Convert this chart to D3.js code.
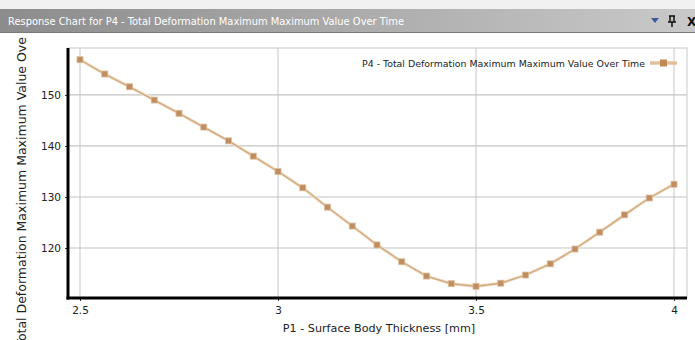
<!DOCTYPE html>
<html>
<head>
<meta charset="utf-8">
<script src="https://cdnjs.cloudflare.com/ajax/libs/d3/7.8.5/d3.min.js"></script>
<style>
  body { margin: 0; background: #fff; }
  svg { display: block; }
</style>
</head>
<body>
<div id="chart"></div>
<script>
// data
const thickness = [2.5, 2.5625, 2.625, 2.6875, 2.75, 2.8125, 2.875, 2.9375, 3.0,
  3.0625, 3.125, 3.1875, 3.25, 3.3125, 3.375, 3.4375, 3.5,
  3.5625, 3.625, 3.6875, 3.75, 3.8125, 3.875, 3.9375, 4.0];
const deformation = [156.9, 154.1, 151.6, 149.0, 146.4, 143.7, 141.0, 138.0, 135.0,
  131.8, 128.0, 124.3, 120.6, 117.3, 114.5, 113.0, 112.5,
  113.1, 114.7, 116.9, 119.8, 123.1, 126.5, 129.8, 132.5];
const xTicks = [2.5, 3, 3.5, 4];
const yTicks = [120, 130, 140, 150];

const titleText = "Response Chart for P4 - Total Deformation Maximum Maximum Value Over Time";
const seriesName = "P4 - Total Deformation Maximum Maximum Value Over Time";
const xLabel = "P1 - Surface Body Thickness  [mm]";
const yLabel = "Total Deformation Maximum Maximum Value Over Time";

const W = 695, H = 340;
const margin = {top: 48, right: 8, bottom: 42, left: 68};
const innerW = W - margin.left - margin.right;
const innerH = H - margin.top - margin.bottom;

const svg = d3.select('#chart').append('svg')
  .attr('width', W).attr('height', H)
  .style('font-family', 'DejaVu Sans, sans-serif');

const xScale = d3.scaleLinear().domain([2.4697, 4.0328]).range([0, innerW]);
const yScale = d3.scaleLinear().domain([110.2, 159.2]).range([innerH, 0]);

const g = svg.append('g')
  .attr('transform', 'translate(' + margin.left + ',' + margin.top + ')');

// frame
g.append('rect')
  .attr('x', 0).attr('y', 0).attr('width', innerW).attr('height', innerH)
  .attr('fill', '#fff').attr('stroke', '#c8c8c8').attr('stroke-width', 1);

// grid
g.append('g').selectAll('line').data(xTicks).enter().append('line')
  .attr('x1', d => xScale(d)).attr('x2', d => xScale(d))
  .attr('y1', 0).attr('y2', innerH)
  .attr('stroke', '#cfcfcf').attr('stroke-width', 1.2);
g.append('g').selectAll('line').data(yTicks).enter().append('line')
  .attr('x1', 0).attr('x2', innerW)
  .attr('y1', d => yScale(d)).attr('y2', d => yScale(d))
  .attr('stroke', '#c4c4c4').attr('stroke-width', 1.2);

// axes
const xAxis = g.append('g')
  .attr('transform', 'translate(0,' + innerH + ')')
  .call(d3.axisBottom(xScale).tickValues(xTicks).tickSize(3).tickPadding(6)
    .tickFormat(d3.format('')));
const yAxis = g.append('g')
  .call(d3.axisLeft(yScale).tickValues(yTicks).tickSize(3).tickPadding(4));
[xAxis, yAxis].forEach(a => {
  a.select('.domain').remove();
  a.selectAll('text').attr('font-size', 10.5).attr('fill', '#222')
    .style('font-family', 'DejaVu Sans, sans-serif');
  a.selectAll('.tick line').attr('stroke', '#333');
});

g.append('line').attr('x1', 0).attr('x2', 0).attr('y1', 0).attr('y2', innerH + 1.5)
  .attr('stroke', '#000').attr('stroke-width', 3);
g.append('line').attr('x1', -1.5).attr('x2', innerW).attr('y1', innerH).attr('y2', innerH)
  .attr('stroke', '#000').attr('stroke-width', 3);

// series
const pts = thickness.map((t, i) => ({x: t, y: deformation[i]}));
const line = d3.line().x(d => xScale(d.x)).y(d => yScale(d.y));
g.append('path').attr('d', line(pts))
  .attr('fill', 'none').attr('stroke', '#f1e0cc').attr('stroke-width', 3.2);
g.append('path').attr('d', line(pts))
  .attr('fill', 'none').attr('stroke', '#d2a97c').attr('stroke-width', 1.4);
g.append('g').selectAll('rect').data(pts).enter().append('rect')
  .attr('x', d => xScale(d.x) - 3).attr('y', d => yScale(d.y) - 3)
  .attr('width', 6).attr('height', 6)
  .attr('fill', '#bf8d5e').attr('stroke', '#dcbc98').attr('stroke-width', 0.8);

// legend
const lg = g.append('g').attr('transform', 'translate(' + (innerW - 37) + ',15)');
lg.append('text').attr('x', -5).attr('y', 3.5).attr('text-anchor', 'end')
  .attr('font-size', 9.4).attr('fill', '#222').text(seriesName);
lg.append('line').attr('x1', 0).attr('x2', 27).attr('y1', 0).attr('y2', 0)
  .attr('stroke', '#e2c09e').attr('stroke-width', 3.5);
lg.append('rect').attr('x', 10).attr('y', -3.5).attr('width', 7).attr('height', 7)
  .attr('fill', '#c08a56');

// axis titles
svg.append('text').attr('x', 379).attr('y', 332).attr('text-anchor', 'middle')
  .attr('font-size', 11.2).attr('fill', '#222').text(xLabel);
svg.append('text')
  .attr('transform', 'translate(26,' + 172 + ') rotate(-90)')
  .attr('text-anchor', 'middle').attr('font-size', 12.5).attr('fill', '#222')
  .text(yLabel);

// title bar (drawn last, covers the top of the y label)
const grad = svg.append('defs').append('linearGradient').attr('id', 'tb')
  .attr('x1', 0).attr('x2', 1).attr('y1', 0).attr('y2', 0);
grad.append('stop').attr('offset', 0).attr('stop-color', '#8c8c8c');
grad.append('stop').attr('offset', 1).attr('stop-color', '#c9c9c9');
svg.append('rect').attr('x', 0).attr('y', 0).attr('width', W).attr('height', 9)
  .attr('fill', '#f1f1f1');
svg.append('rect').attr('x', 0).attr('y', 9).attr('width', W).attr('height', 23)
  .attr('fill', 'url(#tb)');
svg.append('line').attr('x1', 0).attr('x2', W).attr('y1', 32.5).attr('y2', 32.5)
  .attr('stroke', '#7a7a7a');
svg.append('rect').attr('x', 0).attr('y', 33).attr('width', W).attr('height', 4)
  .attr('fill', '#fff');
svg.append('text').attr('x', 8).attr('y', 25)
  .attr('font-size', 11).attr('fill', '#fff')
  .style('font-family', 'DejaVu Sans Condensed, sans-serif')
  .text(titleText);
svg.append('path').attr('d', 'M651,18 L659,18 L655,23 Z').attr('fill', '#3a5a9c');
// pin icon
svg.append('path')
  .attr('d', 'M669,16 h6 M670,16 v6 M674,16 v6 M668,22 h8 M672,22 v5')
  .attr('stroke', '#111').attr('stroke-width', 1.5).attr('fill', 'none');
svg.append('text').attr('x', 687).attr('y', 26).attr('font-size', 12)
  .attr('font-weight', 'bold').attr('fill', '#111').text('X');
</script>
</body>
</html>
